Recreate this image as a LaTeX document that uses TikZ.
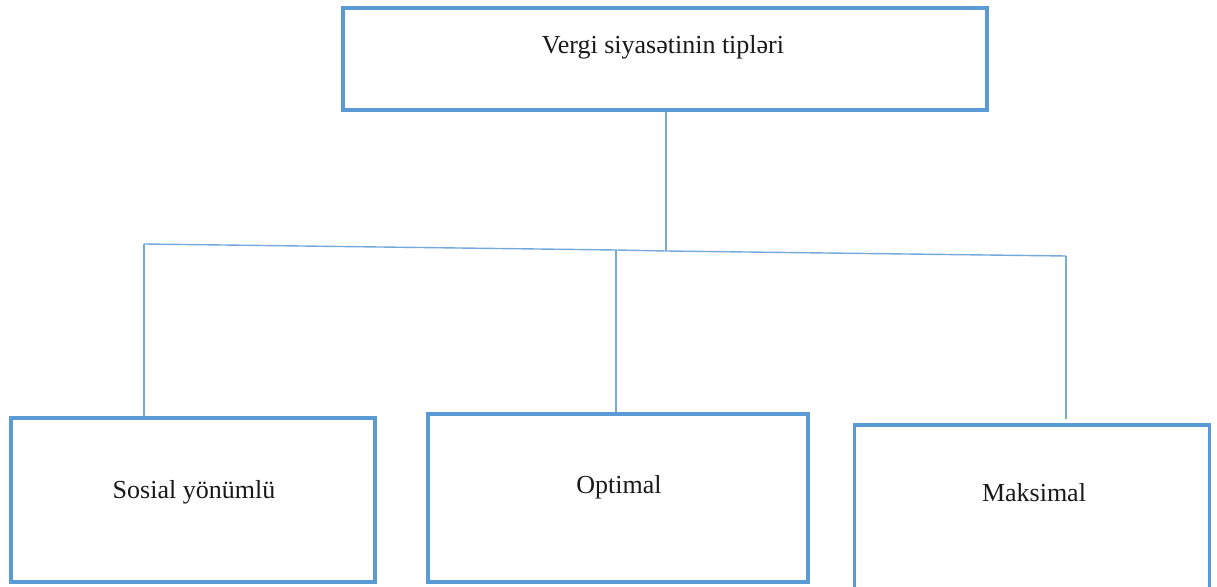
\documentclass[tikz,border=0pt]{standalone}
\usepackage{fontspec}
\setmainfont{Liberation Serif}
\usepackage{tikz}
\usetikzlibrary{calc}

\definecolor{rahmenblau}{HTML}{5B9BD5}

\begin{document}
\begin{tikzpicture}[x=1pt,y=1pt,
    kasten/.style={draw=rahmenblau, line width=3.2pt, minimum width=#1, inner sep=0pt},
    linie/.style={draw=rahmenblau!85, line width=1.4pt},
    schrift/.style={font=\fontsize{26}{31}\selectfont, text=black!90}]
    % Bildrahmen
    \useasboundingbox (0,0) rectangle (1217,586);

    % Kaesten
    \node [kasten=644pt, minimum height=102pt] (typen) at (665,527) {};
    \node [kasten=364pt, minimum height=164pt] (sosial) at (193,86) {};
    \node [kasten=380pt, minimum height=168pt] (optimal) at (618,88) {};
    \node [kasten=355pt, minimum height=170pt] (maks) at (1032,76) {};

    % Beschriftungen
    \node [schrift] (ttypen) at (663,539) {Vergi siyasətinin tipləri};
    \node [schrift] (tsosial) at (194,94) {Sosial yönümlü};
    \node [schrift] (toptimal) at (619,99) {Optimal};
    \node [schrift] (tmaks) at (1034,93) {Maksimal};

    % Verzweigungspunkte
    \coordinate (jL) at (144,342);
    \coordinate (jM) at (616,336);
    \coordinate (jT) at (666,335);
    \coordinate (jR) at (1066,330);

    % Verbindungslinien
    \draw [linie] (typen.south -| jT) -- (jT);
    \draw [linie] (jL) -- (jM) -- (jT) -- (jR);
    \draw [linie] (jL) -- (jL |- sosial.north);
    \draw [linie] (jM) -- (jM |- optimal.north);
    \draw [linie] (jR) -- ([yshift=4pt]jR |- maks.north);
\end{tikzpicture}
\end{document}
